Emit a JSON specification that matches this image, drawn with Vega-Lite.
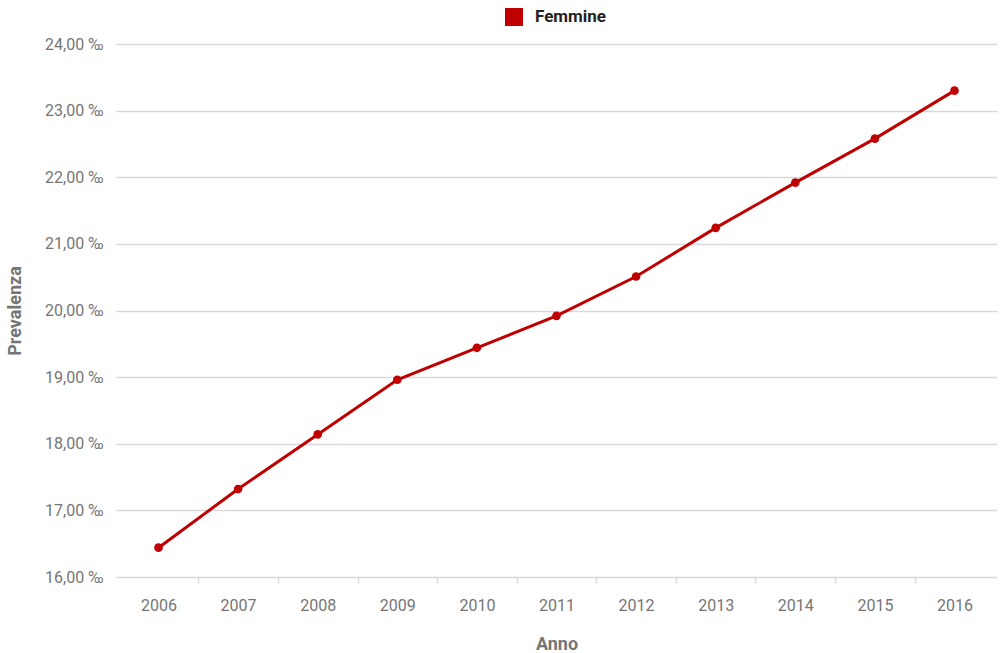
{
  "$schema": "https://vega.github.io/schema/vega-lite/v6.json",
  "width": 881,
  "height": 533,
  "autosize": "none",
  "padding": {"left": 116, "top": 44, "right": 3, "bottom": 76},
  "background": "white",
  "config": {
    "font": "Roboto",
    "view": {"stroke": null}
  },
  "data": {
    "values": [
      {"anno": "2006", "valore": 16.44, "serie": "Femmine"},
      {"anno": "2007", "valore": 17.32, "serie": "Femmine"},
      {"anno": "2008", "valore": 18.14, "serie": "Femmine"},
      {"anno": "2009", "valore": 18.96, "serie": "Femmine"},
      {"anno": "2010", "valore": 19.44, "serie": "Femmine"},
      {"anno": "2011", "valore": 19.92, "serie": "Femmine"},
      {"anno": "2012", "valore": 20.51, "serie": "Femmine"},
      {"anno": "2013", "valore": 21.24, "serie": "Femmine"},
      {"anno": "2014", "valore": 21.92, "serie": "Femmine"},
      {"anno": "2015", "valore": 22.58, "serie": "Femmine"},
      {"anno": "2016", "valore": 23.30, "serie": "Femmine"}
    ]
  },
  "encoding": {
    "x": {
      "field": "anno",
      "type": "ordinal",
      "scale": {"type": "point", "padding": 0.534},
      "axis": {
        "title": "Anno",
        "titleFontSize": 18,
        "titleFontWeight": "bold",
        "titleColor": "#757575",
        "titlePadding": 22,
        "labelAngle": 0,
        "labelFontSize": 16,
        "labelColor": "#757575",
        "labelPadding": 14,
        "domain": false,
        "grid": false,
        "tickSize": 6,
        "tickColor": "#d9d9d9",
        "tickWidth": 1.5,
        "tickOffset": -39.8,
        "labelOffset": 39.8,
        "tickOpacity": {"condition": {"test": "datum.value == '2006'", "value": 0}, "value": 1}
      }
    },
    "y": {
      "field": "valore",
      "type": "quantitative",
      "scale": {"domain": [16, 24], "nice": false, "zero": false},
      "axis": {
        "title": "Prevalenza",
        "titleFontSize": 18,
        "titleFontWeight": "bold",
        "titleColor": "#757575",
        "titlePadding": 20,
        "values": [16, 17, 18, 19, 20, 21, 22, 23, 24],
        "labelExpr": "replace(format(datum.value, '.2f'), '.', ',') + ' ‰'",
        "labelFontSize": 16,
        "labelColor": "#757575",
        "labelPadding": 13,
        "ticks": false,
        "domain": false,
        "grid": true,
        "gridColor": "#d9d9d9",
        "gridWidth": 1.5
      }
    },
    "color": {
      "field": "serie",
      "type": "nominal",
      "scale": {"range": ["#c00000"]},
      "legend": {
        "title": null,
        "orient": "none",
        "legendX": 389,
        "legendY": -36,
        "direction": "horizontal",
        "symbolType": "square",
        "symbolSize": 324,
        "symbolStrokeWidth": 0,
        "symbolOpacity": 1,
        "labelFontSize": 17,
        "labelFontWeight": "bold",
        "labelColor": "#222222",
        "labelOffset": 12,
        "padding": 0
      }
    }
  },
  "layer": [
    {"mark": {"type": "line", "strokeWidth": 3}},
    {"mark": {"type": "point", "filled": true, "size": 75, "opacity": 1}}
  ]
}
